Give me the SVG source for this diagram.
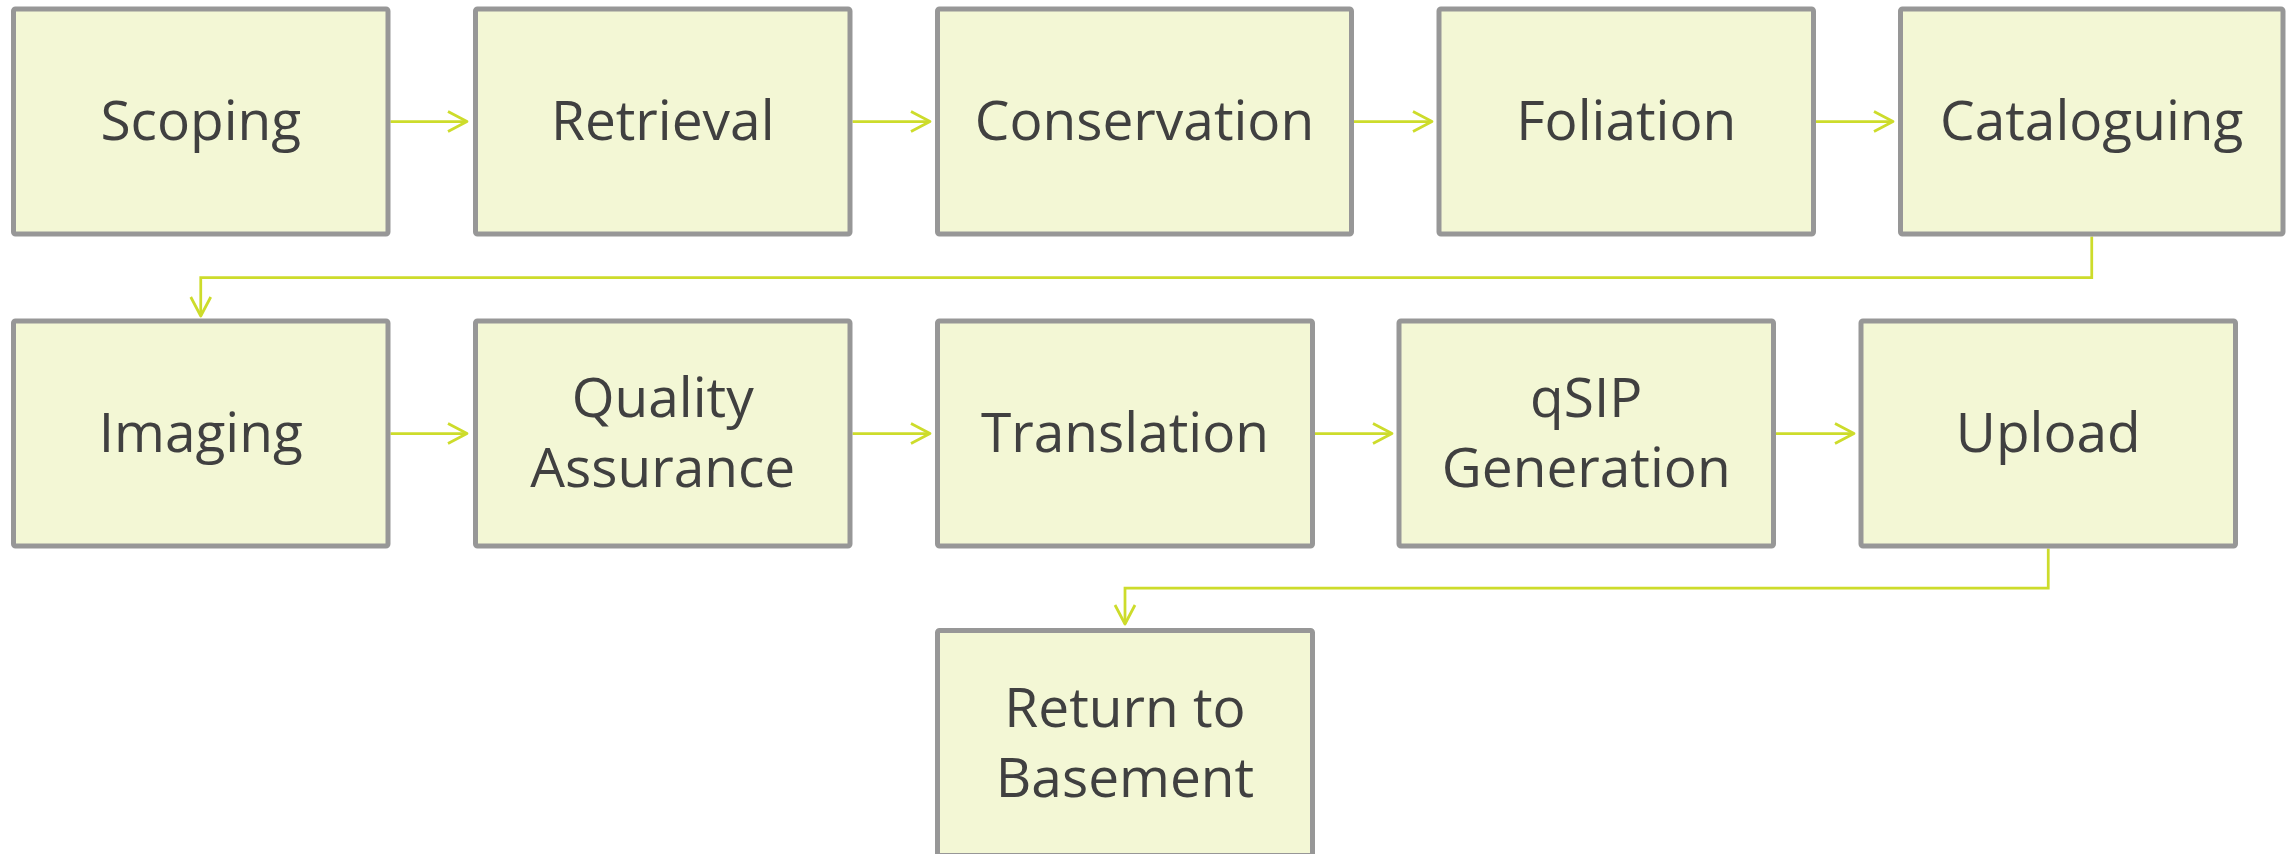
<svg xmlns="http://www.w3.org/2000/svg" width="2291" height="854" viewBox="0 0 2291 854">
<style>
.box{fill:#F3F7D5;stroke:#979797;stroke-width:5;}
.lbl{font-family:"Open Sans","Noto Sans","Liberation Sans",sans-serif;font-size:55px;fill:#404040;text-anchor:middle;}
.con{fill:none;stroke:#CDDC2B;stroke-width:2.75;marker-end:url(#arr);}
</style>
<defs>
<marker id="arr" markerUnits="userSpaceOnUse" viewBox="-25 -15 30 30" markerWidth="30" markerHeight="30" refX="0" refY="0" orient="auto">
<path d="M-19,-10 L0,0 L-19,10" fill="none" stroke="#CDDC2B" stroke-width="2.75" stroke-linejoin="round"/>
</marker>
</defs>
<rect width="2291" height="854" fill="#FFFFFF"/>
<g id="connectors">
<path class="con" d="M390.5,121.5 H467"/>
<path class="con" d="M852.5,121.5 H930"/>
<path class="con" d="M1354,121.5 H1432"/>
<path class="con" d="M1816,121.5 H1893"/>
<path class="con" d="M2091.75,236.5 V277.5 H200.75 V316"/>
<path class="con" d="M390.5,433.5 H467"/>
<path class="con" d="M852.5,433.5 H930"/>
<path class="con" d="M1315,433.5 H1392"/>
<path class="con" d="M1776,433.5 H1854"/>
<path class="con" d="M2048.25,548.5 V588 H1125 V624"/>
</g>
<g id="scoping"><rect class="box" x="13.5" y="9" width="374.5" height="225" rx="2"/><text class="lbl" x="200.75" y="140">Scoping</text></g>
<g id="retrieval"><rect class="box" x="475.5" y="9" width="374.5" height="225" rx="2"/><text class="lbl" x="662.75" y="140">Retrieval</text></g>
<g id="conservation"><rect class="box" x="937.5" y="9" width="414" height="225" rx="2"/><text class="lbl" x="1144.5" y="140">Conservation</text></g>
<g id="foliation"><rect class="box" x="1439" y="9" width="374.5" height="225" rx="2"/><text class="lbl" x="1626.25" y="140">Foliation</text></g>
<g id="cataloguing"><rect class="box" x="1900.5" y="9" width="382.5" height="225" rx="2"/><text class="lbl" x="2091.75" y="140">Cataloguing</text></g>
<g id="imaging"><rect class="box" x="13.5" y="321" width="374.5" height="225" rx="2"/><text class="lbl" x="200.75" y="452">Imaging</text></g>
<g id="quality-assurance"><rect class="box" x="475.5" y="321" width="374.5" height="225" rx="2"/><text class="lbl" x="662.75" y="416.7">Quality</text><text class="lbl" x="662.75" y="487.3">Assurance</text></g>
<g id="translation"><rect class="box" x="937.5" y="321" width="375" height="225" rx="2"/><text class="lbl" x="1125" y="452">Translation</text></g>
<g id="qsip-generation"><rect class="box" x="1399" y="321" width="374.5" height="225" rx="2"/><text class="lbl" x="1586.25" y="416.7">qSIP</text><text class="lbl" x="1586.25" y="487.3">Generation</text></g>
<g id="upload"><rect class="box" x="1861" y="321" width="374.5" height="225" rx="2"/><text class="lbl" x="2048.25" y="452">Upload</text></g>
<g id="return-to-basement"><rect class="box" x="937.5" y="630.5" width="375" height="225" rx="2"/><text class="lbl" x="1125" y="726.5">Return to</text><text class="lbl" x="1125" y="797">Basement</text></g>
</svg>
